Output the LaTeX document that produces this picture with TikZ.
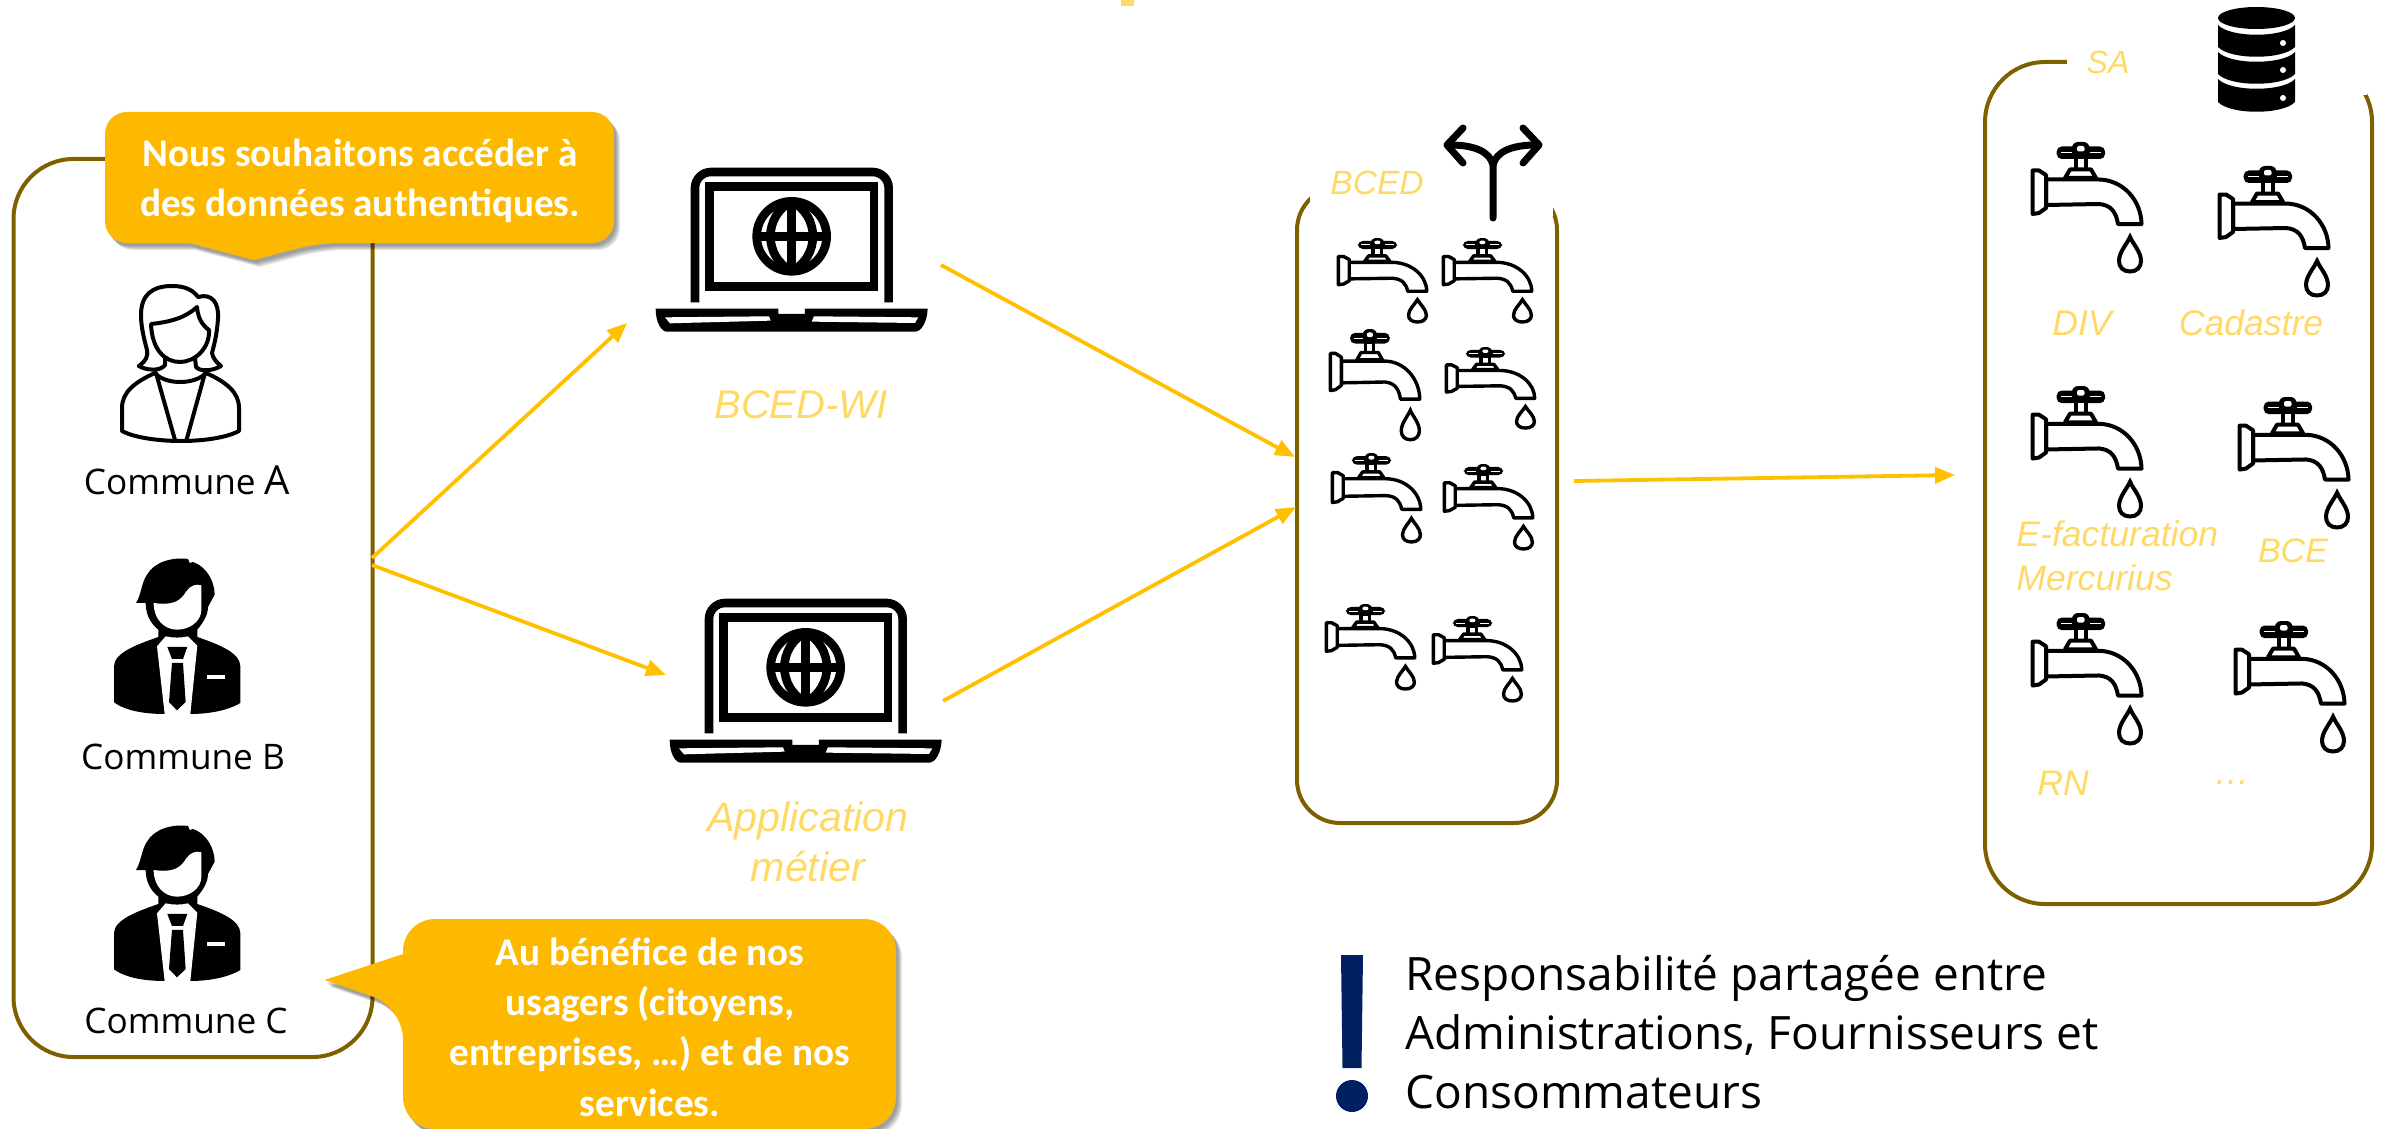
\documentclass[tikz,border=0pt]{standalone}
\usepackage{fontspec}
\setmainfont{Open Sans}
\newfontfamily\calfont{Carlito}
\newfontfamily\labfont{Liberation Sans}
\usetikzlibrary{arrows.meta}
\definecolor{boxcol}{HTML}{7F6000}
\definecolor{callcol}{HTML}{FDB900}
\definecolor{arrowcol}{HTML}{FFC000}
\definecolor{labcol}{HTML}{FFD966}
\definecolor{navy}{HTML}{002060}
\tikzset{
  framebox/.style={draw=boxcol,line width=2pt,minimum width=#1,inner sep=0pt,fill=none},
  flow/.style={draw=arrowcol,line width=1.9pt,-{Triangle[length=10pt,width=8pt]},shorten >=0pt},
  calltext/.style={text=white,font=\calfont\bfseries\fontsize{19.6}{25.2}\selectfont,align=center,inner sep=0pt},
  person/.style={text=black,font=\fontsize{17.6}{20}\selectfont,inner sep=0pt},
  lab/.style={text=labcol,font=\labfont\itshape\fontsize{#1}{22}\selectfont,inner sep=0pt,align=center},
  lab/.default=17.8,
  note/.style={text=black,font=\fontsize{23}{29.3}\selectfont,align=left,inner sep=0pt},
  tap/.pic={
    \fill[black,rounded corners=2.5pt] (25.7,4.5) rectangle (74,17);
    \fill[black,rounded corners=3pt] (41,0) rectangle (58.5,14);
    \fill[white] (30,10) rectangle (41,11.3);
    \fill[white] (59,10) rectangle (70,11.3);
    \fill[white,rounded corners=1pt] (46,4) rectangle (53.5,9.5);
    \draw[black,tapline,fill=white] (44.5,15) rectangle (54.5,28);
    \draw[black,tapline,fill=white,line join=round] (34,36) -- (39,27.5) -- (60,27.5) -- (65,36) -- cycle;
    \draw[black,tapline,fill=white,line join=round] (15,37.5) -- (68,37.5) .. controls (92,38) and (110,58) .. (110.5,82) -- (87,82) .. controls (85,70) and (80,63) .. (68,62) -- (15,63) -- cycle;
    \draw[black,tapline,fill=white,line join=round] (1.7,28.5) -- (8,28.5) -- (15,33) -- (15,66) -- (8,71) -- (1.7,72) -- cycle;
    \draw[black,tapline,fill=white,line join=miter] (99,95) .. controls (96,102) and (88,110) .. (88,119) .. controls (88,125) and (92,129.5) .. (99,129.5) .. controls (106,129.5) and (110,125) .. (110,119) .. controls (110,110) and (102,102) .. (99,95) -- cycle;
  },
  tapline/.style={line width=2pt},
  laptop/.pic={
    \begin{scope}[shift={(-105,-85)}]
    \draw[black,line width=4.3pt,rounded corners=8pt] (225,488) -- (225,97) -- (806,97) -- (806,488);
    \draw[black,line width=4.3pt] (268,140) rectangle (762,440);
    \fill[black] (107,507) -- (475,507) -- (475,523) -- (555,523) -- (555,507) -- (923,507) .. controls (922,545) and (905,576) .. (885,576) -- (140,576) .. controls (125,576) and (107,550) .. (107,507) -- cycle;
    \fill[white] (135,533) -- (447,530) -- (452,543) -- (150,551) -- cycle;
    \fill[white] (582,530) -- (895,533) -- (885,550) -- (575,546) -- cycle;
    \draw[black,line width=4.3pt] (515,290) circle[radius=105];
    \draw[black,line width=4.3pt] (515,185) -- (515,395);
    \draw[black,line width=4.3pt] (410,290) -- (620,290);
    \draw[black,line width=4.3pt] (515,185) .. controls (430,230) and (430,350) .. (515,395);
    \draw[black,line width=4.3pt] (515,185) .. controls (600,230) and (600,350) .. (515,395);
    \end{scope}
  },
  suit/.pic={
    \begin{scope}[shift={(-163,-115)}]
    \fill[black] (163,548) -- (163,440) .. controls (163,400) and (230,375) .. (296,352) -- (296,330)
      .. controls (270,310) and (258,280) .. (258,250) -- (229,250) .. controls (245,225) and (245,190) .. (262,165)
      .. controls (285,125) and (340,112) .. (385,118) -- (390,130) -- (400,127) .. controls (440,140) and (465,185) .. (465,225)
      -- (445,262) .. controls (445,290) and (425,315) .. (413,330) -- (413,352) .. controls (480,375) and (542,400) .. (542,440)
      -- (542,550) .. controls (500,575) and (440,583) .. (392,583) -- (315,583) .. controls (260,583) and (200,575) .. (163,548) -- cycle;
    \fill[white] (282,250) .. controls (340,258) and (362,245) .. (380,215) .. controls (392,197) and (410,192) .. (425,197)
      -- (425,270) .. controls (425,305) and (390,330) .. (352,330) .. controls (315,330) and (282,300) .. (282,250) -- cycle;
    \fill[white] (292,380) -- (318,350) .. controls (340,355) and (365,355) .. (385,350) -- (413,378) -- (392,583) -- (315,583) -- cycle;
    \fill[black] (323,382) -- (383,382) -- (370,418) -- (337,418) -- cycle;
    \fill[black] (337,430) -- (370,430) -- (378,547) -- (352,572) -- (328,547) -- cycle;
    \fill[white] (442,465) rectangle (495,478);
    \end{scope}
  },
}
\newcommand\callA{(360,112) [rounded corners=11pt] -- (614,112) -- (614,243) -- (318,243) [sharp corners] -- (254,260) -- (189,243) [rounded corners=11pt] -- (105,243) -- (105,112) -- cycle}
\newcommand\callB{(650,919) [rounded corners=16pt] -- (896,919) -- (896,1129) -- (403,1129) -- (403,1007) [sharp corners] -- (324.5,980) -- (403,954) [rounded corners=16pt] -- (403,919) -- cycle}
\newcommand\tapat[4]{\pic[shift={(#1,#2)},xscale={#3/112},yscale={#4/131}]{tap};}
\begin{document}
\begin{tikzpicture}[x=0.5pt,y=-0.5pt]
\useasboundingbox (0,0) rectangle (2389,1129);
% fragment at the top edge
\fill[labcol] (1120.5,0) rectangle (1134,6);
% frames
\node[framebox=179.5pt,minimum height=449pt,rounded corners=30pt] (communes) at (193,608) {};
\node[framebox=130pt,minimum height=318pt,rounded corners=21.5pt] (bced) at (1427,505) {};
\node[framebox=193.5pt,minimum height=421pt,rounded corners=30pt] (sa) at (2178.5,483) {};
\fill[white] (1310,170) rectangle (1553,216);
\fill[white] (2067,40) rectangle (2367,95);
% persons
\begin{scope}[black,line width=2pt,line join=round,line cap=round]
\draw (139,366) .. controls (147,360) and (148,355) .. (147,350) .. controls (143,335) and (141,325) .. (141,315) .. controls (141,295) and (152,286) .. (172,286) .. controls (185,286) and (193,290) .. (198,297) .. controls (212,293) and (219,303) .. (218,318) .. controls (217,335) and (214,345) .. (212,353) .. controls (213,358) and (216,362) .. (221,366) .. controls (213,371) and (200,372) .. (196,367) -- (195,358);
\draw (139,366) .. controls (145,370) and (160,372) .. (165,365) -- (165,358);
\draw (151,324) .. controls (170,322) and (185,318) .. (197,307) .. controls (198,318) and (202,325) .. (209,330) .. controls (210,348) and (195,362) .. (180,362) .. controls (165,362) and (152,350) .. (151,324) -- cycle;
\draw (155,373) .. controls (165,385) and (195,385) .. (206,373);
\draw (155,373) .. controls (135,382) and (122,392) .. (122,408) -- (122,431) .. controls (135,438) and (160,441) .. (181,441) .. controls (202,441) and (226,438) .. (239,431) -- (239,408) .. controls (239,392) and (226,382) .. (206,373);
\draw (156,373) -- (175,440);
\draw (205,373) -- (186.5,440);
\end{scope}
\pic[shift={(114,558)},scale=0.3333]{suit};
\pic[shift={(114,825)},scale=0.3333]{suit};
\node[person] (nA) at (187,480) {Commune {\fontsize{20}{20}\selectfont A}};
\node[person] (nB) at (183,757) {Commune B};
\node[person] (nC) at (186,1021) {Commune C};
% laptops
\pic[shift={(655,168)},scale=0.3333]{laptop};
\pic[shift={(669,599)},scale=0.3333]{laptop};
\node[lab=20] (lWI) at (801,405) {BCED-WI};
\node[lab=20.6] (lApp) at (808,842) {Application\\[3pt]métier};
% fork icon
\begin{scope}[black,line width=3.5pt,line cap=round,line join=round]
\draw (1493,218) -- (1493,165) .. controls (1490,152) and (1475,145) .. (1450,145);
\draw (1493,165) .. controls (1496,152) and (1511,145) .. (1536,145);
\draw (1463,128) -- (1447,145) -- (1463,163);
\draw (1523,128) -- (1539,145) -- (1523,163);
\end{scope}
% database icon
\fill[black] (2256.5,18) ellipse[x radius=38.5,y radius=11];
\foreach \s/\h in {25/22,52/22,79/23}
  \fill[black] (2218,\s) .. controls (2230,\s+13) and (2283,\s+13) .. (2295,\s) -- (2295,\s+\h) .. controls (2283,\s+\h+13) and (2230,\s+\h+13) .. (2218,\s+\h) -- cycle;
\foreach \y in {43,70,98} \fill[white] (2283,\y) circle[radius=3];
% taps BCED
\begin{scope}[tapline/.style={line width=1.7pt}]
\tapat{1337}{238}{91}{85}
\tapat{1442}{238}{91}{85}
\tapat{1329}{329}{92}{112}
\tapat{1445}{347}{91}{82}
\tapat{1331}{453}{91}{90}
\tapat{1443}{464}{91}{86}
\tapat{1325}{604}{91}{86}
\tapat{1432}{616}{91}{86}
\end{scope}
% taps SA
\tapat{2031}{142}{112}{131}
\tapat{2218}{166}{112}{131}
\tapat{2031}{386}{112}{132}
\tapat{2238}{397}{112}{132}
\tapat{2031}{613}{112}{132}
\tapat{2234}{621}{112}{132}
% labels
\node[lab=16.8] (lBCED) at (1377,183) {BCED};
\node[lab=16] (lSA) at (2108,62) {SA};
\node[lab] (lDIV) at (2082,323) {DIV};
\node[lab] (lCad) at (2251,323) {Cadastre};
\node[lab,align=left,anchor=west] (lEF) at (2016,556) {E-facturation\\Mercurius};
\node[lab=17] (lBCE) at (2293,551) {BCE};
\node[lab] (lRN) at (2063,783) {RN};
\node[lab] (lDots) at (2232,783) {…};
% connectors
\coordinate (oA) at (372,558);
\coordinate (oB) at (372,565);
\coordinate (iWI) at (627,323);
\coordinate (iApp) at (666,675);
\coordinate (oWI) at (941,265);
\coordinate (oApp) at (943,701);
\coordinate (iB1) at (1295,457);
\coordinate (iB2) at (1296,507);
\coordinate (oB3) at (1574,481);
\coordinate (iSA) at (1955,475);
\draw[flow] (oA) -- (iWI);
\draw[flow] (oB) -- (iApp);
\draw[flow] (oWI) -- (iB1);
\draw[flow] (oApp) -- (iB2);
\draw[flow] (oB3) -- (iSA);
% callouts
\foreach \d in {2,3,4,5,6} {
  \fill[black,opacity=.09,shift={(\d,\d+1)}] \callA;
  \fill[black,opacity=.09,shift={(\d,\d+1)}] \callB;
}
\fill[callcol] \callA;
\fill[callcol] \callB;
\node[calltext] (tA) at (360,181) {Nous souhaitons accéder à\\des données authentiques.};
\node[calltext] (tB) at (650,1027) {Au bénéfice de nos\\usagers (citoyens,\\entreprises, …) et de nos\\services.};
% note
\fill[navy] (1341,955) -- (1363,955) -- (1361.5,1068) -- (1342.5,1068) -- cycle;
\fill[navy] (1352,1096) ellipse[x radius=16,y radius=16];
\node[note,anchor=west] (noteT) at (1405,1032) {Responsabilité partagée entre\\Administrations, Fournisseurs et\\Consommateurs};
\end{tikzpicture}
\end{document}
